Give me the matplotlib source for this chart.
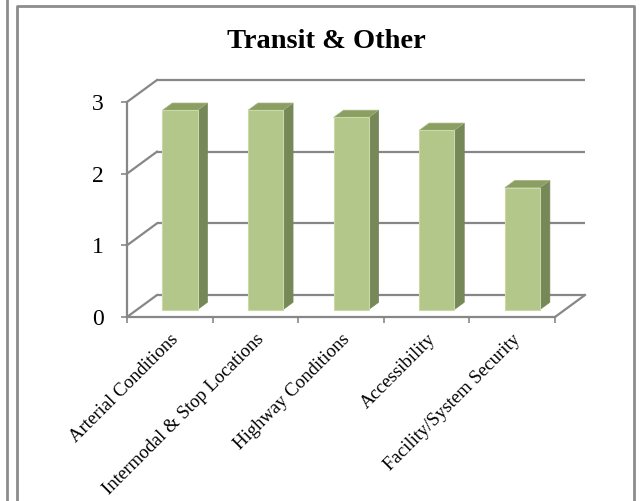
import matplotlib.pyplot as plt
from matplotlib.patches import Polygon
from matplotlib.lines import Line2D
import numpy as np

categories = ["Arterial Conditions", "Intermodal & Stop Locations",
              "Highway Conditions", "Accessibility", "Facility/System Security"]
values = [2.78, 2.78, 2.68, 2.5, 1.7]
y_ticks = [0, 1, 2, 3]

plt.rcParams['font.family'] = ['Liberation Serif', 'DejaVu Serif']

fig = plt.figure(figsize=(6.41, 5.01), dpi=100)
ax = fig.add_axes([127 / 641, 1 - 317 / 501, 428 / 641, 215 / 501])
ax.set_xlim(0, 5)
ax.set_ylim(0, 3)

# depth offset of the 3d box, in data units
DX = 30 / 85.6
DY = 22 / 71.67
grid_c = '#878787'
grid_w = 1.6

# back wall gridlines and side wall diagonals
for y in y_ticks:
    ax.plot([DX, 5 + DX], [y + DY, y + DY], color=grid_c, lw=grid_w,
            clip_on=False, zorder=1, solid_capstyle='butt')
    ax.plot([0, DX], [y, y + DY], color=grid_c, lw=grid_w,
            clip_on=False, zorder=1)
# right edge of floor
ax.plot([5, 5 + DX], [0, DY], color=grid_c, lw=grid_w, clip_on=False, zorder=1)

# bars
front_c = '#b3c78a'
side_c = '#768758'
top_c = '#8c9f63'
w = 0.41
d0, d1 = 0.34, 0.67
for i, v in enumerate(values):
    c = i + 0.5
    x0 = c - w / 2 + d0 * DX
    x1 = c + w / 2 + d0 * DX
    yb = d0 * DY
    ox = (d1 - d0) * DX
    oy = (d1 - d0) * DY
    front = Polygon([(x0, yb), (x1, yb), (x1, yb + v), (x0, yb + v)],
                    closed=True, facecolor=front_c, edgecolor='#c9d9a8',
                    lw=0.8, clip_on=False, zorder=3)
    side = Polygon([(x1, yb), (x1 + ox, yb + oy), (x1 + ox, yb + v + oy), (x1, yb + v)],
                   closed=True, facecolor=side_c, edgecolor=side_c,
                   lw=0.5, clip_on=False, zorder=3)
    top = Polygon([(x0, yb + v), (x1, yb + v), (x1 + ox, yb + v + oy), (x0 + ox, yb + v + oy)],
                  closed=True, facecolor=top_c, edgecolor='#a3b47c',
                  lw=0.5, clip_on=False, zorder=3)
    ax.add_patch(side)
    ax.add_patch(top)
    ax.add_patch(front)

# axes
for s in ['top', 'right']:
    ax.spines[s].set_visible(False)
for s in ['left', 'bottom']:
    ax.spines[s].set_color(grid_c)
    ax.spines[s].set_linewidth(grid_w)
ax.set_facecolor('none')

ax.set_yticks(y_ticks)
ax.set_yticklabels([str(t) for t in y_ticks], fontsize=17)
ax.tick_params(axis='y', length=4.3, width=1.2, color=grid_c, pad=12.5)

ax.set_xticks(np.arange(len(categories)) + 0.5)
ax.set_xticklabels(categories, fontsize=13.5, rotation=45, ha='right',
                   va='top', rotation_mode='anchor')
ax.set_xticks(np.arange(len(categories) + 1), minor=True)
ax.tick_params(axis='x', which='major', length=0, pad=10)
ax.tick_params(axis='x', which='minor', length=4, width=1.2, color=grid_c)

fig.text(326 / 641, 1 - 42 / 501, "Transit & Other", fontsize=20.5,
         fontweight='bold', ha='center', va='center')

# chart frame and edge of the neighbouring chart
border_c = '#8c8c8c'
fig.add_artist(Line2D([17 / 641, 17 / 641, 634 / 641, 634 / 641],
                      [-0.05, 1 - 6 / 501, 1 - 6 / 501, -0.05],
                      transform=fig.transFigure, color=border_c, lw=2))
fig.add_artist(Line2D([7 / 641, 7 / 641], [-0.05, 1.05],
                      transform=fig.transFigure, color=border_c, lw=2))

fig.savefig('out.png', dpi=100)
